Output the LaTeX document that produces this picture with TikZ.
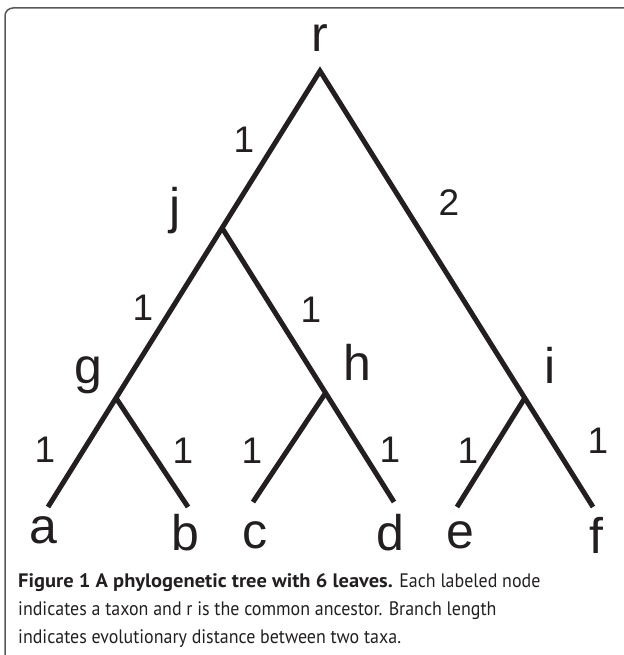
\documentclass[tikz,border=0pt]{standalone}
\usepackage{fontspec}
\setmainfont{Liberation Sans}
\newfontfamily\capfont[FakeStretch=0.92]{PT Sans}
\newfontfamily\capbf[FakeStretch=1.05]{PT Sans Bold}
\usetikzlibrary{positioning,calc}
\definecolor{ink}{HTML}{231F20}

\begin{document}
\begin{tikzpicture}[x=1pt, y=-1pt,
    branch/.style={draw=ink, line width=5pt, line join=miter},
    taxon/.style={font=\fontsize{50}{60}\selectfont, text=ink, inner sep=0pt, anchor=base},
    dist/.style={font=\fontsize{37}{44}\selectfont, text=ink, inner sep=0pt, anchor=base},
    caption/.style={font=\capfont\fontsize{19.5}{28}\selectfont, text=ink, inner sep=0pt, anchor=base west}]
  \useasboundingbox (0,0) rectangle (623,655);
  \draw[gray!70!black, line width=1.5pt, rounded corners=8pt] (5,670) -- (5,8) -- (640,8);

  % vertices of the tree
  \coordinate (r) at (320,71);
  \coordinate (a) at (48,507);
  \coordinate (f) at (593,507);
  \coordinate (j) at ($(r)!0.360!(a)$);
  \coordinate (g) at ($(r)!0.750!(a)$);
  \coordinate (i) at ($(r)!0.750!(f)$);
  \coordinate (d) at (394,502);
  \coordinate (h) at ($(j)!0.602!(d)$);
  \coordinate (b) at (188,507);
  \coordinate (c) at (253,502);
  \coordinate (e) at (457,507);

  \draw[branch] (a) -- (g) -- (j) -- (r) -- (i) -- (f);
  \draw[branch] (j) -- (h) -- (d);
  \draw[branch] (g) -- (b);
  \draw[branch] (h) -- (c);
  \draw[branch] (i) -- (e);

  % taxa
  \node[taxon] (tr) at (320,52) {r};
  \node[taxon] (tj) at (175,223) {j};
  \node[taxon] (tg) at (88,383) {g};
  \node[taxon] (th) at (357,380) {h};
  \node[taxon] (ti) at (550,383) {i};
  \node[taxon] (ta) at (43,543) {a};
  \node[taxon] (tb) at (185,550) {b};
  \node[taxon] (tc) at (255,548) {c};
  \node[taxon] (td) at (390,550) {d};
  \node[taxon] (te) at (460,548) {e};
  \node[taxon] (tf) at (596,553) {f};

  % branch lengths
  \node[dist] (rj) at (244,153) {1};
  \node[dist] (ri) at (449,215) {2};
  \node[dist] (jg) at (143,320) {1};
  \node[dist] (jh) at (311,322) {1};
  \node[dist] (ga) at (45,462) {1};
  \node[dist] (gb) at (183,463) {1};
  \node[dist] (hc) at (252,463) {1};
  \node[dist] (hd) at (390,462) {1};
  \node[dist] (ie) at (468,463) {1};
  \node[dist] (if) at (598,453) {1};

  % caption
  \node[caption] (cap1) at (18,587) {{\capbf Figure 1 A phylogenetic tree with 6 leaves.} Each labeled node};
  \node[caption] (cap2) at (18,615) {indicates a taxon and r is the common ancestor. Branch length};
  \node[caption] (cap3) at (18,643) {indicates evolutionary distance between two taxa.};
\end{tikzpicture}
\end{document}
